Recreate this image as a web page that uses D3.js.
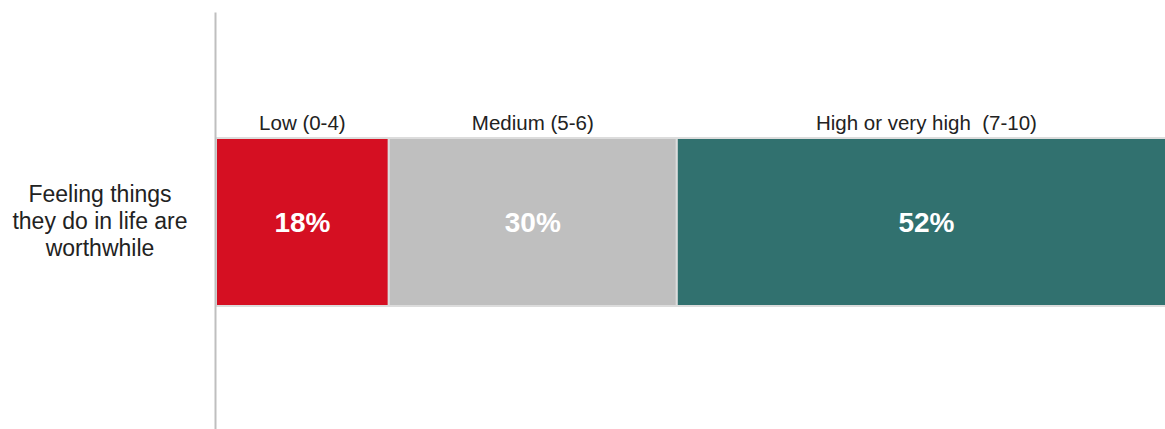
<!DOCTYPE html>
<html>
<head>
<meta charset="utf-8">
<script src="https://cdn.jsdelivr.net/npm/d3@7"></script>
<style>
  html, body { margin: 0; padding: 0; background: #fff; }
  svg { display: block; font-family: Arial, "Liberation Sans", sans-serif; }
</style>
</head>
<body>
<svg id="chart" width="1165" height="429"></svg>
<script>
const categories = ["Feeling things they do in life are worthwhile"];
const categoryLines = [["Feeling things", "they do in life are", "worthwhile"]];
const seriesNames = ["Low (0-4)", "Medium (5-6)", "High or very high  (7-10)"];
const seriesValues = [18, 30, 52];
const seriesColors = ["#d50f22", "#bfbfbf", "#31716f"];

const svg = d3.select("#chart");

const x = d3.scaleLinear().domain([0, 100]).range([216, 1176]);
const y = d3.scaleBand().domain(categories).range([12, 429]).paddingInner(0).paddingOuter(0);

let acc = 0;
const stacked = seriesValues.map((v, i) => {
  const d = { name: seriesNames[i], value: v, x0: acc, x1: acc + v, color: seriesColors[i] };
  acc += v;
  return d;
});

const barTop = 138, barH = 168;

const g = svg.append("g");

g.selectAll("rect.seg")
  .data(stacked)
  .join("rect")
  .attr("class", "seg")
  .attr("x", d => x(d.x0))
  .attr("y", barTop)
  .attr("width", d => x(d.x1) - x(d.x0))
  .attr("height", barH)
  .attr("fill", d => d.color)
  .attr("stroke", "#dcdcdc")
  .attr("stroke-width", 2);

g.selectAll("text.val")
  .data(stacked)
  .join("text")
  .attr("class", "val")
  .attr("x", d => (x(d.x0) + x(d.x1)) / 2)
  .attr("y", barTop + barH / 2)
  .attr("dy", "0.35em")
  .attr("text-anchor", "middle")
  .attr("fill", "#ffffff")
  .attr("font-weight", "bold")
  .attr("font-size", "28px")
  .text(d => d.value + "%");

g.selectAll("text.ser")
  .data(stacked)
  .join("text")
  .attr("class", "ser")
  .attr("x", d => (x(d.x0) + x(d.x1)) / 2)
  .attr("y", 130)
  .attr("text-anchor", "middle")
  .attr("fill", "#222")
  .attr("font-size", "20.5px")
  .style("white-space", "pre")
  .text(d => d.name);

const yAxis = d3.axisLeft(y).tickSize(0).tickFormat("");
const ax = svg.append("g").attr("transform", "translate(215,0)").call(yAxis);
ax.select(".domain").attr("stroke", "#bfbfbf").attr("stroke-width", 2);

const cat = svg.append("text")
  .attr("x", 100)
  .attr("y", 202)
  .attr("text-anchor", "middle")
  .attr("fill", "#222")
  .attr("font-size", "23px");
cat.selectAll("tspan")
  .data(categoryLines[0])
  .join("tspan")
  .attr("x", 100)
  .attr("dy", (d, i) => i === 0 ? 0 : 27)
  .text(d => d);
</script>
</body>
</html>
